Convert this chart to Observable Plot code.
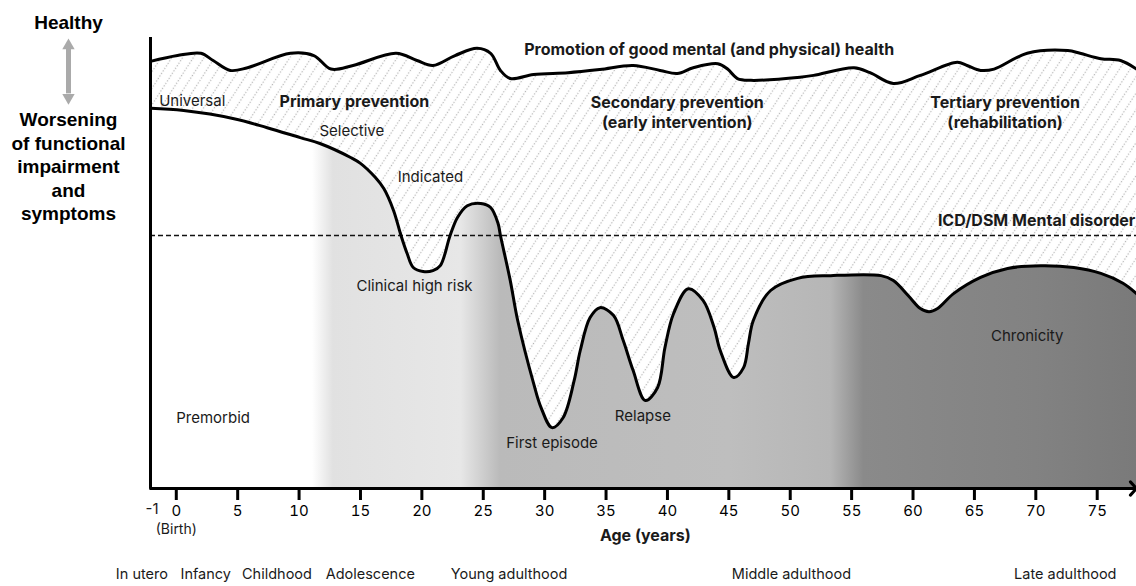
<!DOCTYPE html>
<html>
<head>
<meta charset="utf-8">
<script src="https://cdn.jsdelivr.net/npm/d3@7"></script>
<script src="https://cdn.jsdelivr.net/npm/@observablehq/plot@0.6"></script>
<style>
  html, body { margin: 0; padding: 0; background: #fff; }
  svg { display: block; }
</style>
</head>
<body>
<div id="chart"></div>
<script>
// ---- Data ----
// Upper curve: promotion of good mental (and physical) health
const healthAge = [-2.1, 0.1, 2.0, 3.0, 4.4, 5.8, 9.3, 11.2, 12.6, 14.4, 17.9, 19.6, 20.9, 22.7, 24.5, 25.6, 26.4, 27.2, 29.1, 31.9, 34.5, 37.2, 39.4, 40.8, 42.1, 44.1, 44.9, 45.7, 46.8, 50.8, 51.9, 55.2, 56.5, 58.4, 60.6, 63.6, 64.4, 65.5, 66.6, 69.3, 72.6, 73.6, 75.3, 76.9, 78.2];
const healthLevel = [94.7, 96.0, 96.5, 94.9, 92.7, 93.3, 96.5, 96.0, 93.0, 93.8, 96.5, 94.9, 93.8, 96.0, 97.6, 96.5, 92.7, 90.9, 91.8, 92.2, 92.9, 93.8, 92.7, 92.0, 93.3, 94.2, 93.0, 90.9, 90.5, 91.2, 91.6, 93.3, 92.2, 89.8, 91.6, 94.5, 93.8, 92.7, 93.0, 96.5, 97.1, 96.5, 95.3, 94.9, 93.0];

// Lower curve: functional level / symptoms trajectory
const impairAge = [-2.1, 0.6, 4.7, 7.4, 10.1, 11.7, 14.2, 15.0, 16.2, 16.9, 17.7, 18.3, 18.8, 19.3, 20.1, 20.9, 21.5, 22.3, 22.9, 23.7, 24.8, 25.6, 26.2, 26.4, 27.2, 27.8, 29.1, 29.7, 30.6, 31.5, 32.4, 32.9, 33.7, 34.5, 35.6, 36.4, 37.2, 38.2, 39.2, 39.8, 40.5, 41.7, 42.9, 43.8, 44.3, 45.4, 46.2, 46.6, 47.0, 48.4, 50.6, 53.3, 57.4, 58.4, 59.6, 60.6, 61.3, 62.0, 63.3, 65.5, 67.7, 70.4, 73.1, 75.3, 77.1, 78.2];
const impairLevel = [84.3, 83.8, 82.0, 80.0, 77.8, 76.5, 73.4, 72.1, 69.0, 66.5, 61.6, 56.1, 52.1, 49.0, 48.1, 48.3, 49.4, 56.1, 60.1, 62.7, 63.2, 62.3, 58.8, 56.1, 46.1, 37.3, 23.3, 18.0, 13.5, 15.7, 23.9, 30.6, 37.9, 40.1, 38.4, 32.8, 26.2, 19.5, 22.4, 31.3, 38.8, 44.3, 41.7, 35.7, 30.6, 24.6, 26.8, 32.2, 37.3, 43.9, 46.6, 47.2, 47.2, 46.1, 42.8, 39.9, 39.2, 39.9, 43.2, 46.8, 48.8, 49.4, 49.0, 47.7, 45.5, 43.2];

const disorderThreshold = 56.1;
const ageDomain = [-2.1, 78.2];
const ageTicks = [0, 5, 10, 15, 20, 25, 30, 35, 40, 45, 50, 55, 60, 65, 70, 75];

const lifeStages = ["In utero", "Infancy", "Childhood", "Adolescence", "Young adulthood", "Middle adulthood", "Late adulthood"];
const stageAges = [-2.8, 2.4, 8.2, 15.8, 27.1, 50.1, 72.4];

// Shading stages along age (for the background gradient)
const shadeAges = [-2.1, 11.1, 12.8, 23.2, 26.4, 45, 53.3, 56.0, 70, 78.2];
const shadeColors = ["#ffffff", "#ffffff", "#e1e1e1", "#e7e7e7", "#bababa", "#bebebe", "#b6b6b6", "#8a8a8a", "#828282", "#7a7a7a"];

const health = healthAge.map((a, i) => ({age: a, level: healthLevel[i]}));
const impair = impairAge.map((a, i) => ({age: a, level: impairLevel[i]}));

const ink = "#1a1a1a";
const font = "Inter, 'Noto Sans', sans-serif";
const armFont = "'Liberation Sans', Arial, sans-serif";
const curve = "catmull-rom";

const note = (t, age, level, o = {}) =>
  Plot.text([{t, age, level}], {x: "age", y: "level", text: "t", fill: ink, fontSize: 15, ...o});
const bottomNote = (t, age, dy, o = {}) =>
  Plot.text([{t, age}], {x: "age", text: "t", frameAnchor: "bottom", dy, fill: ink, fontSize: 15, ...o});

const leftX = -8.78; // centre of the left-hand legend column

const plot = Plot.plot({
  width: 1136,
  height: 586,
  marginLeft: 150,
  marginRight: 0,
  marginTop: 37,
  marginBottom: 98,
  x: {domain: ageDomain},
  y: {domain: [0, 100], axis: null},
  style: {fontFamily: font, fontSize: "15px", background: "#fff", color: "#000", overflow: "visible"},
  marks: [
    Plot.areaY(health, {x: "age", y: "level", curve, fill: "url(#hatch)"}),
    Plot.areaY(impair, {x: "age", y: "level", curve, fill: "url(#shade)"}),
    Plot.ruleY([disorderThreshold], {x1: ageDomain[0], x2: ageDomain[1], stroke: "#111", strokeWidth: 1.4, strokeDasharray: "5,3"}),
    Plot.lineY(health, {x: "age", y: "level", curve, stroke: "#000", strokeWidth: 3}),
    Plot.lineY(impair, {x: "age", y: "level", curve, stroke: "#000", strokeWidth: 3}),
    Plot.ruleX([ageDomain[0]], {y1: 0, y2: 100, stroke: "#000", strokeWidth: 3}),
    Plot.arrow([{a: ageDomain[0], b: ageDomain[1], v: 0}], {x1: "a", x2: "b", y1: "v", y2: "v", stroke: "#000", strokeWidth: 3, headLength: 4.5, headAngle: 95}),
    Plot.axisX({ticks: ageTicks, tickSize: 12, strokeWidth: 3, tickPadding: 5, fontSize: 15, label: null, tickFormat: d => String(d)}),

    // left legend: Healthy <-> Worsening
    Plot.ruleX([leftX], {y1: 87.5, y2: 97.5, stroke: "#aaaaaa", strokeWidth: 5}),
    Plot.dot([{x: leftX, y: 98.2}], {x: "x", y: "y", symbol: "triangle", r: 4.6, fill: "#aaaaaa", stroke: null}),
    Plot.dot([{x: leftX, y: 86.7}], {x: "x", y: "y", symbol: "triangle", r: 4.6, fill: "#aaaaaa", stroke: null, rotate: 180}),
    note("Healthy", leftX, 103.3, {fontFamily: armFont, fontWeight: "bold", fontSize: 19, fill: "#000"}),
    note("Worsening\nof functional\nimpairment\nand\nsymptoms", leftX, 71.6, {fontFamily: armFont, fontWeight: "bold", fontSize: 19, lineHeight: 1.24, fill: "#000"}),

    // annotations in the plot
    note("Promotion of good mental (and physical) health", 43.4, 97.3, {fontWeight: "bold", fontSize: 16}),
    note("Universal", 1.3, 85.8),
    note("Primary prevention", 14.5, 85.8, {fontWeight: "bold", fontSize: 16}),
    note("Selective", 14.3, 79.2),
    note("Indicated", 20.7, 69.0),
    note("Secondary prevention\n(early intervention)", 40.8, 83.6, {fontWeight: "bold", fontSize: 16, lineHeight: 1.25}),
    note("Tertiary prevention\n(rehabilitation)", 67.5, 83.6, {fontWeight: "bold", fontSize: 16, lineHeight: 1.25}),
    note("ICD/DSM Mental disorder", 78.1, 59.4, {fontWeight: "bold", fontSize: 16, textAnchor: "end"}),
    note("Clinical high risk", 19.4, 44.8),
    note("Premorbid", 3.0, 15.5),
    note("First episode", 30.6, 10.0),
    note("Relapse", 38.0, 16.0),
    note("Chronicity", 69.3, 33.7),

    // bottom labels
    bottomNote("-1", -1, 25, {dx: -12}),
    bottomNote("(Birth)", 0, 45, {fontSize: 14}),
    bottomNote("Age (years)", 38.2, 52, {fontWeight: "bold", fontSize: 16}),
    Plot.text(lifeStages, {x: (d, i) => stageAges[i], text: d => d, frameAnchor: "bottom", dy: 90, fill: ink, fontSize: 14.5})
  ]
});

// ---- SVG defs: gradient for the stages and dotted hatch ----
const ns = "http://www.w3.org/2000/svg";
const xs = plot.scale("x");
const defs = document.createElementNS(ns, "defs");
const grad = document.createElementNS(ns, "linearGradient");
grad.setAttribute("id", "shade");
grad.setAttribute("gradientUnits", "userSpaceOnUse");
grad.setAttribute("x1", xs.apply(ageDomain[0]));
grad.setAttribute("x2", xs.apply(ageDomain[1]));
grad.setAttribute("y1", 0);
grad.setAttribute("y2", 0);
shadeAges.forEach((a, i) => {
  const s = document.createElementNS(ns, "stop");
  s.setAttribute("offset", (a - ageDomain[0]) / (ageDomain[1] - ageDomain[0]));
  s.setAttribute("stop-color", shadeColors[i]);
  grad.appendChild(s);
});
defs.appendChild(grad);

const pat = document.createElementNS(ns, "pattern");
pat.setAttribute("id", "hatch");
pat.setAttribute("patternUnits", "userSpaceOnUse");
pat.setAttribute("width", 9);
pat.setAttribute("height", 12);
pat.setAttribute("patternTransform", "rotate(33)");
const bg = document.createElementNS(ns, "rect");
bg.setAttribute("width", 9); bg.setAttribute("height", 12); bg.setAttribute("fill", "#ffffff");
pat.appendChild(bg);
const ln = document.createElementNS(ns, "line");
ln.setAttribute("x1", 4.5); ln.setAttribute("x2", 4.5);
ln.setAttribute("y1", 0); ln.setAttribute("y2", 12);
ln.setAttribute("stroke", "#b4b4b4");
ln.setAttribute("stroke-width", 1.2);
ln.setAttribute("stroke-dasharray", "1.2 1.8");
pat.appendChild(ln);
defs.appendChild(pat);
plot.insertBefore(defs, plot.firstChild);

document.getElementById("chart").appendChild(plot);
</script>
</body>
</html>
